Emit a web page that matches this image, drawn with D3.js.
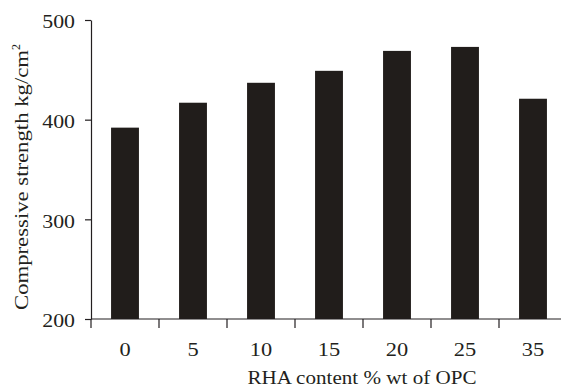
<!DOCTYPE html>
<html>
<head>
<meta charset="utf-8">
<script src="https://cdn.jsdelivr.net/npm/d3@7"></script>
<style>
body { margin: 0; background: #fff; }
svg text { font-family: "Liberation Serif", "Times New Roman", Times, serif; fill: #231f20; }
</style>
</head>
<body>
<div id="main_div"></div>
<script>
var categories = ["0", "5", "10", "15", "20", "25", "35"];
var strength = [392, 417, 437, 449, 469, 473, 421];
var y_ticks = [200, 300, 400, 500];

var width = 561, height = 391;
var serif = "Liberation Serif";
var x_scale = d3.scaleBand().domain(categories).range([91, 567]).paddingInner(0.59).paddingOuter(0.295);
var y_scale = d3.scaleLinear().domain([200, 500]).range([319, 20]);

var svg = d3.select("#main_div").append("svg").attr("width", width).attr("height", height);

// bars
svg.append("g").selectAll("rect").data(strength).enter().append("rect")
    .attr("x", function(d, i) { return x_scale(categories[i]); })
    .attr("y", function(d) { return y_scale(d); })
    .attr("width", x_scale.bandwidth())
    .attr("height", function(d) { return y_scale(200) - y_scale(d); })
    .attr("fill", "#211d1b");

// y axis
var g_y = svg.append("g").attr("transform", "translate(91,0)")
    .call(d3.axisLeft(y_scale).tickValues(y_ticks).tickSize(6).tickSizeOuter(0));
g_y.attr("font-family", serif);
g_y.select(".domain").attr("stroke", "#231f20").attr("stroke-width", 1.2);
g_y.selectAll(".tick line").attr("stroke", "#231f20").attr("stroke-width", 1.2);
g_y.selectAll(".tick text")
    .attr("x", null).attr("dy", "0.36em")
    .attr("transform", "translate(-16,1) scale(1.15,1)")
    .attr("font-size", 19).attr("font-family", serif).attr("fill", "#231f20");

// x axis: line with ticks between bands, labels under bars
var g_x = svg.append("g").attr("transform", "translate(0,319)");
g_x.append("line").attr("x1", 91).attr("x2", width).attr("y1", 0).attr("y2", 0)
    .attr("stroke", "#231f20").attr("stroke-width", 1.2);
var step = x_scale.step();
var boundaries = categories.slice(0, -1).map(function(c) {
    return x_scale(c) + x_scale.bandwidth() / 2 + step / 2;
});
boundaries.unshift(91);
g_x.selectAll(".tk").data(boundaries).enter().append("line")
    .attr("x1", function(d) { return d; }).attr("x2", function(d) { return d; })
    .attr("y1", 0).attr("y2", 9)
    .attr("stroke", "#231f20").attr("stroke-width", 1.2);
g_x.selectAll(".lbl").data(categories).enter().append("text")
    .attr("transform", function(d) {
        return "translate(" + (x_scale(d) + x_scale.bandwidth() / 2) + ",37) scale(1.18,1)";
    })
    .attr("text-anchor", "middle")
    .attr("font-size", 19)
    .attr("font-family", serif)
    .text(function(d) { return d; });

// axis titles
svg.append("text")
    .attr("x", 362).attr("y", 384)
    .attr("text-anchor", "middle")
    .attr("font-size", 18)
    .attr("font-family", serif)
    .attr("textLength", 229).attr("lengthAdjust", "spacingAndGlyphs")
    .text("RHA content % wt of OPC");

var yt = svg.append("text")
    .attr("transform", "translate(28,177) rotate(-90)")
    .attr("text-anchor", "middle")
    .attr("font-size", 18)
    .attr("font-family", serif);
yt.append("tspan").attr("textLength", 260).attr("lengthAdjust", "spacingAndGlyphs")
    .text("Compressive strength kg/cm");
yt.append("tspan").attr("dy", -8).attr("font-size", 12).text("2");
</script>
</body>
</html>
